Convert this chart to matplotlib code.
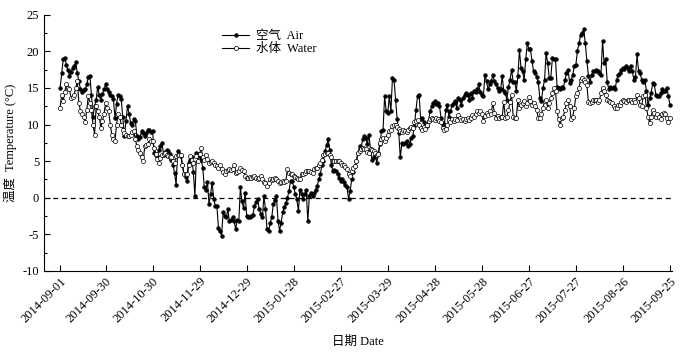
import matplotlib
matplotlib.use("Agg")
import matplotlib.pyplot as plt
import matplotlib.dates as mdates
import matplotlib.ticker as mticker
import pandas as pd

plt.rcParams['font.family'] = ['Liberation Serif', 'Noto Sans CJK SC', 'DejaVu Sans']
plt.rcParams['axes.unicode_minus'] = False

start_date = "2014-09-01"

air = [
    15.0, 17.0, 18.9, 19.1, 18.2, 17.4, 16.7, 17.2, 17.7, 18.0,
    18.5, 17.0, 15.9, 14.8, 14.5, 14.7, 14.8, 15.5, 16.5, 16.7,
    14.0, 11.1, 12.5, 13.4, 15.2, 14.0, 13.4, 14.2, 14.8, 15.5,
    14.8, 14.5, 14.0, 13.9, 13.5, 10.9, 12.8, 14.1, 13.9, 13.5,
    11.0, 8.4, 10.5, 12.5, 11.5, 10.2, 10.0, 10.7, 10.5, 8.4,
    8.0, 8.3, 9.1, 8.8, 8.5, 8.9, 9.2, 9.3, 9.0, 9.1,
    6.1, 5.9, 5.7, 6.5, 7.0, 7.5, 5.9, 6.2, 6.5, 6.4,
    6.0, 5.2, 4.5, 3.4, 1.8, 6.4, 6.0, 5.7, 4.5, 3.2,
    2.8, 2.3, 4.8, 5.2, 5.5, 3.5, 0.2, 6.1, 6.0, 5.7,
    5.2, 4.1, 1.4, 1.1, 2.1, -0.9, 0.5, 2.0, -0.2, -1.1,
    -1.1, -4.1, -4.5, -5.2, -2.0, -2.5, -2.7, -1.6, -3.2, -3.0,
    -2.7, -3.2, -4.3, -3.0, -3.2, 1.4, -0.5, -1.4, 0.7, -2.5,
    -2.6, -2.7, -2.5, -2.3, -1.1, -0.6, -0.2, -1.6, -2.2, -2.7,
    0.2, -1.6, -4.3, -4.5, -3.5, -2.7, -0.9, -0.3, 0.2, -3.2,
    -4.5, -3.4, -2.0, -1.3, -0.7, 0.0, 0.9, 2.3, 2.3, 1.5,
    0.5, -0.2, -1.8, 1.1, 0.5, -0.2, 0.5, 1.1, -3.2, 0.2,
    0.7, 0.2, 0.6, 1.1, 1.6, 2.5, 3.2, 4.5, 5.0, 6.4,
    7.2, 8.0, 6.5, 4.5, 3.6, 3.8, 3.6, 3.2, 2.7, 2.3,
    2.5, 2.1, 1.8, 1.4, -0.2, 0.9, 2.5, 3.5, 4.3, 5.0,
    6.1, 7.0, 6.8, 8.0, 8.4, 8.2, 7.3, 8.6, 6.6, 5.2,
    5.5, 5.7, 4.8, 6.1, 7.3, 9.1, 9.3, 13.9, 11.8, 11.6,
    13.9, 11.8, 16.4, 16.1, 13.4, 10.7, 8.9, 5.5, 7.5, 7.3,
    7.5, 7.8, 7.0, 7.3, 8.2, 8.5, 9.8, 12.0, 13.9, 14.1,
    10.7, 10.9, 10.3, 9.8, 9.8, 10.5, 11.8, 12.5, 13.0, 13.2,
    12.8, 13.0, 12.5, 10.9, 10.2, 9.8, 12.0, 12.7, 11.1, 11.8,
    12.7, 13.0, 13.2, 12.3, 13.7, 13.4, 12.7, 13.7, 14.0, 14.3,
    14.1, 13.4, 14.3, 13.7, 14.6, 14.5, 14.8, 15.5, 14.5, 14.1,
    13.9, 16.8, 15.9, 14.8, 15.5, 15.9, 16.8, 15.9, 15.5, 15.0,
    14.6, 14.8, 16.6, 14.6, 14.3, 13.4, 15.2, 16.1, 17.5, 15.8,
    15.8, 14.6, 16.6, 20.2, 17.7, 17.3, 16.1, 18.9, 21.1, 20.4,
    20.3, 18.7, 17.3, 17.0, 16.5, 15.8, 13.6, 13.2, 15.0, 16.1,
    19.8, 18.4, 16.4, 16.4, 19.1, 18.9, 18.9, 15.2, 15.0, 14.8,
    15.2, 15.0, 16.1, 17.0, 17.5, 15.7, 16.1, 16.8, 18.0, 18.2,
    20.1, 21.1, 22.3, 22.5, 23.0, 21.1, 18.7, 16.6, 15.8, 16.8,
    17.3, 17.3, 17.5, 17.3, 17.0, 16.8, 21.4, 18.4, 18.9, 15.8,
    14.8, 15.2, 15.0, 15.2, 14.8, 16.1, 16.8, 17.0, 17.5, 17.7,
    17.6, 18.0, 17.7, 17.3, 18.0, 17.3, 16.1, 16.5, 19.6, 17.3,
    17.0, 16.1, 15.8, 16.1, 14.6, 12.7, 13.6, 14.3, 15.7, 15.5,
    14.1, 13.9, 13.9, 14.3, 14.8, 14.6, 14.6, 15.0, 13.9, 12.7,
]

water = [
    12.3, 14.1, 13.2, 14.5, 15.5, 15.0, 14.8, 13.6, 13.8, 14.1,
    15.0, 15.9, 13.0, 11.8, 11.5, 11.1, 10.4, 12.0, 13.9, 13.0,
    12.0, 10.0, 8.6, 12.5, 11.8, 11.1, 9.5, 10.5, 11.4, 13.0,
    12.3, 11.8, 10.0, 8.6, 8.0, 7.7, 10.0, 11.4, 11.1, 10.0,
    9.3, 8.8, 8.6, 8.4, 8.5, 8.6, 9.0, 9.1, 8.0, 7.0,
    6.5, 6.1, 5.5, 5.0, 7.0, 7.2, 7.3, 8.0, 7.8, 7.7,
    6.8, 6.0, 5.3, 4.8, 5.4, 5.9, 6.0, 6.1, 5.9, 5.7,
    5.6, 5.5, 5.0, 4.8, 5.7, 5.8, 5.9, 5.9, 4.5, 3.2,
    3.2, 3.2, 4.5, 5.7, 5.2, 4.8, 5.3, 5.7, 5.0, 6.0,
    6.8, 5.5, 5.2, 5.9, 5.3, 4.8, 4.9, 5.0, 4.7, 4.5,
    4.3, 4.0, 4.5, 3.9, 3.5, 3.2, 3.6, 3.8, 3.9, 3.8,
    3.9, 4.5, 3.4, 3.5, 3.6, 4.1, 3.8, 3.6, 3.0, 2.7,
    2.7, 2.8, 2.7, 2.8, 2.9, 2.7, 2.5, 2.7, 2.9, 2.5,
    2.2, 2.0, 1.6, 2.0, 2.5, 2.4, 2.5, 2.7, 2.5, 2.3,
    2.0, 2.2, 2.3, 2.2, 2.3, 3.9, 3.4, 3.3, 3.2, 2.9,
    2.8, 2.7, 2.6, 2.5, 3.2, 3.3, 3.4, 3.6, 3.6, 3.6,
    3.5, 3.4, 3.9, 4.0, 4.1, 4.5, 4.8, 5.2, 5.9, 6.0,
    6.1, 6.1, 5.8, 5.5, 5.0, 5.0, 5.0, 5.0, 5.0, 4.7,
    4.5, 4.5, 4.2, 3.9, 3.3, 2.9, 3.6, 4.0, 4.3, 5.0,
    6.1, 6.4, 6.6, 6.8, 6.7, 6.6, 6.3, 6.1, 6.6, 6.5,
    6.4, 6.1, 5.9, 6.0, 7.5, 8.0, 8.2, 7.8, 8.2, 8.6,
    9.1, 9.3, 9.8, 10.0, 9.9, 9.6, 9.4, 9.1, 9.0, 9.2,
    9.1, 9.0, 9.3, 9.5, 9.6, 9.5, 10.3, 10.5, 10.6, 9.9,
    9.5, 9.3, 9.6, 9.4, 10.0, 10.5, 10.7, 10.9, 10.7, 10.6,
    10.9, 10.8, 10.5, 10.3, 9.5, 9.3, 9.4, 10.0, 10.6, 10.4,
    10.7, 10.5, 10.8, 10.6, 11.3, 10.9, 10.6, 10.8, 10.5, 10.7,
    10.9, 10.6, 10.9, 11.3, 11.0, 11.4, 11.8, 11.6, 11.8, 11.5,
    10.5, 11.2, 11.6, 11.3, 11.8, 11.5, 13.0, 11.6, 10.9, 11.2,
    10.9, 11.0, 11.1, 13.1, 10.9, 11.1, 12.0, 13.1, 14.1, 11.1,
    10.9, 10.9, 13.4, 12.3, 12.7, 13.0, 13.2, 12.5, 12.9, 13.8,
    13.2, 12.7, 12.9, 12.5, 12.0, 10.9, 10.9, 11.4, 12.3, 13.2,
    13.4, 12.3, 13.0, 13.6, 14.3, 15.0, 14.6, 11.8, 10.7, 10.0,
    10.9, 11.1, 12.0, 12.9, 13.4, 12.5, 10.7, 11.1, 12.3, 13.9,
    14.3, 15.0, 16.1, 16.4, 16.1, 15.8, 15.4, 13.1, 12.9, 13.1,
    13.4, 13.3, 13.4, 13.1, 13.3, 14.3, 15.0, 14.6, 14.1, 13.4,
    13.2, 13.1, 12.9, 12.5, 12.3, 12.3, 12.7, 12.7, 13.1, 13.3,
    13.2, 13.1, 13.3, 13.4, 13.3, 13.1, 13.3, 13.1, 14.1, 13.6,
    12.7, 12.5, 13.9, 14.1, 12.3, 11.1, 10.2, 11.1, 12.0, 11.6,
    11.1, 11.4, 11.0, 10.7, 11.4, 11.6, 11.4, 10.9, 10.4, 10.9,
]

tick_labels = ["2014-09-01", "2014-09-30", "2014-10-30", "2014-11-29", "2014-12-29",
               "2015-01-28", "2015-02-27", "2015-03-29", "2015-04-28", "2015-05-28",
               "2015-06-27", "2015-07-27", "2015-08-26", "2015-09-25"]

legend_labels = ["空气  Air", "水体  Water"]
xlabel = "日期 Date"
ylabel = "温度  Temperature (°C)"

dates = pd.date_range(start_date, periods=len(air), freq="D")

fig = plt.figure(figsize=(7.0, 3.54), dpi=100)
ax = fig.add_axes([0.063, 0.235, 0.897, 0.723])

ax.plot(dates, air, color="black", lw=0.8, marker="o", ms=2.6,
        mfc="black", mec="black", mew=0.5, label=legend_labels[0], zorder=3)
ax.plot(dates, water, color="black", lw=0.8, marker="o", ms=3.0,
        mfc="white", mec="black", mew=0.5, label=legend_labels[1], zorder=4)

ax.axhline(0, color="black", lw=0.9, ls=(0, (4, 3)), zorder=2)

ax.set_ylim(-10, 25)
ax.yaxis.set_major_locator(mticker.MultipleLocator(5))
ax.yaxis.set_minor_locator(mticker.MultipleLocator(2.5))
ax.set_xlim(pd.Timestamp(start_date) - pd.Timedelta(days=10.2),
            pd.Timestamp(start_date) + pd.Timedelta(days=390.3))

tick_pos = pd.to_datetime(tick_labels)
ax.set_xticks(tick_pos)
ax.set_xticklabels(tick_labels, rotation=45, ha="right", rotation_mode="anchor", fontsize=9)
ax.tick_params(axis="both", which="both", direction="in")
ax.tick_params(axis="both", which="major", length=4, width=0.8, labelsize=9)
ax.tick_params(axis="x", labelsize=9, pad=3)
ax.tick_params(axis="y", which="minor", length=2.5, width=0.8)

for s in ["top", "right"]:
    ax.spines[s].set_visible(False)
for s in ["left", "bottom"]:
    ax.spines[s].set_linewidth(0.8)

ax.set_xlabel(xlabel, fontsize=9, labelpad=8)
ax.set_ylabel(ylabel, fontsize=9, labelpad=4)

leg = ax.legend(loc="upper left", bbox_to_anchor=(0.275, 0.96), frameon=False,
                fontsize=9, handlelength=2.2, handletextpad=0.5, labelspacing=0.1,
                borderaxespad=0.0)

fig.savefig("out.png", dpi=100)
